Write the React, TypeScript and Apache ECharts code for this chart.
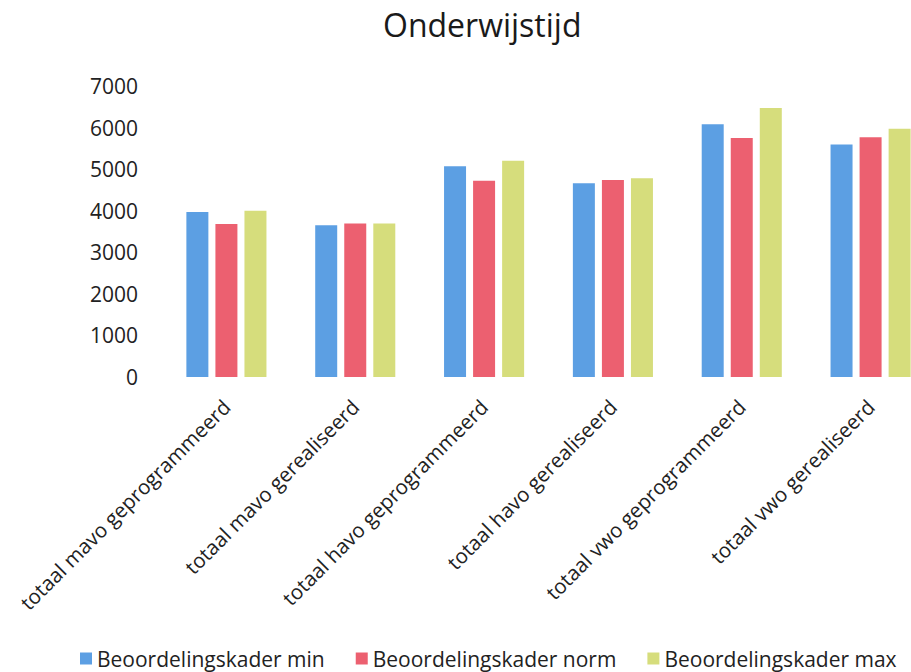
import React, { useEffect, useRef } from "react";
import * as echarts from "echarts";

const categories = [
  "totaal mavo geprogrammeerd",
  "totaal mavo gerealiseerd",
  "totaal havo geprogrammeerd",
  "totaal havo gerealiseerd",
  "totaal vwo geprogrammeerd",
  "totaal vwo gerealiseerd",
];
const seriesNames = ["Beoordelingskader min", "Beoordelingskader norm", "Beoordelingskader max"];
const minValues = [3970, 3650, 5070, 4660, 6080, 5590];
const normValues = [3680, 3690, 4720, 4740, 5750, 5770];
const maxValues = [4000, 3690, 5200, 4780, 6470, 5970];
const colors = ["#5c9fe3", "#ec6070", "#d6dd7c"];

export default function App() {
  const ref = useRef<HTMLDivElement>(null);
  useEffect(() => {
    const chart = echarts.init(ref.current!, null, { renderer: "svg" });
    const font = "'Open Sans', 'Noto Sans', sans-serif";
    const data = [minValues, normValues, maxValues];
    chart.setOption({
      animation: false,
      textStyle: { fontFamily: font },
      title: {
        text: "Onderwijstijd",
        left: 383,
        top: 8,
        padding: 0,
        textStyle: { fontFamily: font, fontSize: 32, fontWeight: "normal", color: "#1a1a1a" },
      },
      grid: { left: 162, width: 773, top: 86, height: 291, containLabel: false },
      legend: {
        top: 648,
        left: 80,
        itemWidth: 12,
        itemHeight: 12,
        itemGap: 31,
        icon: "rect",
        padding: 0,
        textStyle: { fontFamily: font, fontSize: 21, color: "#222" },
        data: seriesNames,
      },
      xAxis: {
        type: "category",
        data: categories,
        axisLine: { show: false },
        axisTick: { show: false },
        axisLabel: { rotate: 45, fontSize: 20.5, color: "#222", fontFamily: font, margin: 26, interval: 0 },
      },
      yAxis: {
        type: "value",
        min: 0,
        max: 7000,
        interval: 1000,
        splitLine: { show: false },
        axisLine: { show: false },
        axisTick: { show: false },
        axisLabel: {
          fontSize: 21,
          color: "#222",
          fontFamily: font,
          margin: 24,
          formatter: (v: number) => String(v),
        },
      },
      series: seriesNames.map((name, i) => ({
        name,
        type: "bar",
        data: data[i],
        barWidth: 22,
        barGap: "32%",
        itemStyle: { color: colors[i] },
      })),
    });
    return () => chart.dispose();
  }, []);
  return (
    <div
      style={{
        position: "absolute",
        left: 0,
        top: 0,
        width: 911,
        height: 672,
        overflow: "hidden",
        background: "#fff",
      }}
    >
      <div ref={ref} style={{ width: 960, height: 672 }} />
    </div>
  );
}
